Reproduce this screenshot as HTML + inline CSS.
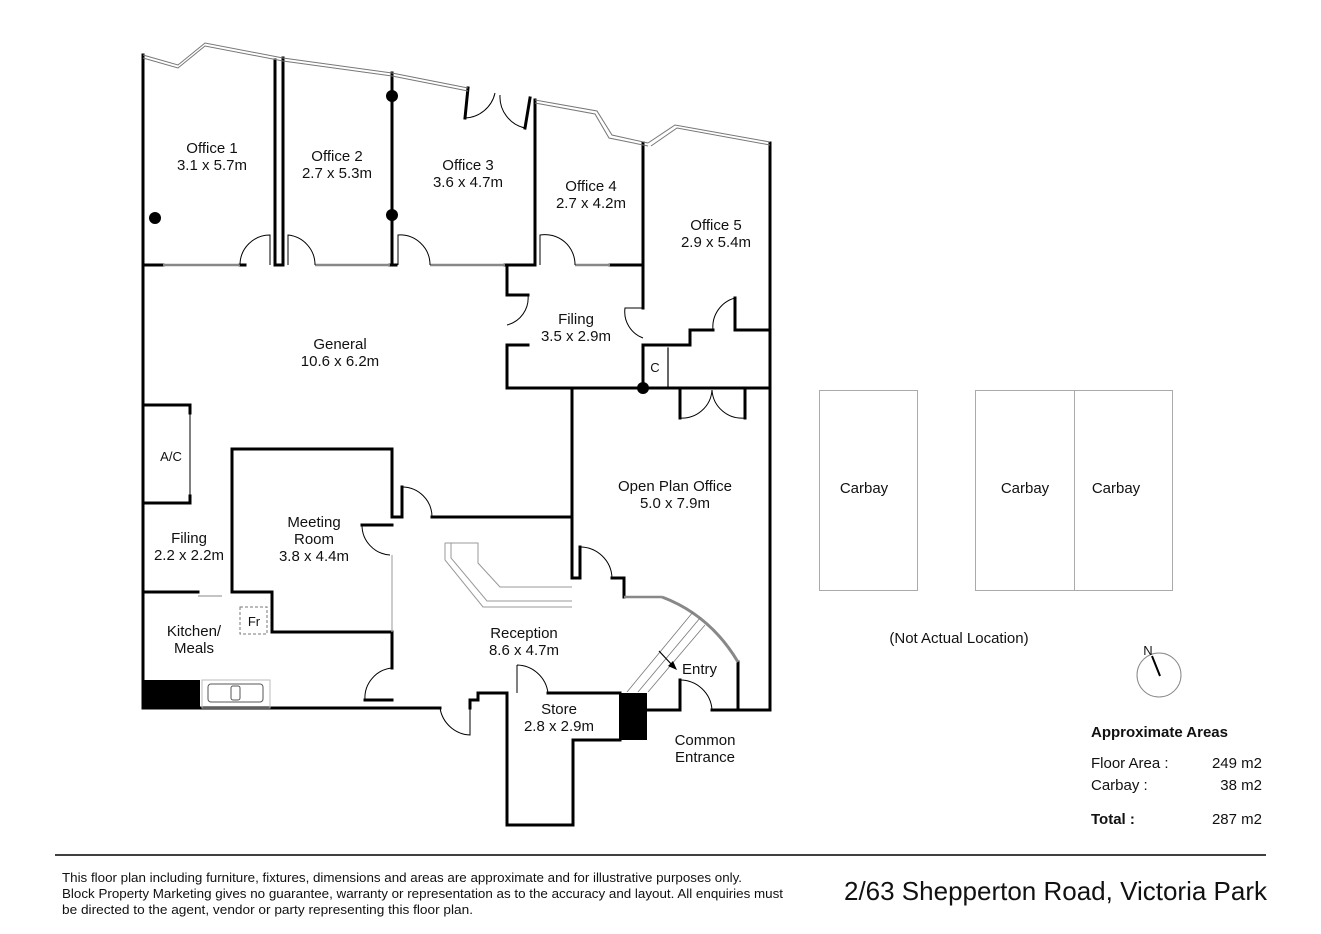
<!DOCTYPE html>
<html><head><meta charset="utf-8"><style>
html,body{margin:0;padding:0;background:#fff;}
svg{display:block;}
text{font-family:"Liberation Sans",sans-serif;fill:#111;}
</style></head><body>
<svg width="1321" height="934" viewBox="0 0 1321 934" xmlns="http://www.w3.org/2000/svg">
<g fill="none" stroke="#000" stroke-width="3" stroke-linecap="square">
<line x1="143" y1="55" x2="143" y2="708"/>
<path d="M275 60 L275 265 M283 58 L283 265"/>
<line x1="392" y1="73" x2="392" y2="265"/>
<line x1="535" y1="100" x2="535" y2="265"/>
<line x1="530" y1="98" x2="525" y2="128"/>
<line x1="468" y1="88" x2="465" y2="118"/>
<path d="M643 143 L643 308 M643 345 L643 388"/>
<line x1="770" y1="143" x2="770" y2="710"/>
<path d="M143 265 L163 265 M240 265 L245 265 M275 265 L283 265 M390 265 L396 265 M505 265 L535 265 M610 265 L643 265"/>
<path d="M507 265 L507 295 L528 295 M528 345 L507 345 L507 388 L770 388"/>
<path d="M643 345 L690 345 L690 330 L713 330 M735 298 L735 330 L770 330"/>
<line x1="668" y1="348" x2="668" y2="386" stroke-width="1.2"/>
<path d="M680 388 L680 418 M745 418 L745 390"/>
<path d="M572 388 L572 578 L580 578 L580 547 M612 578 L624 578 L624 597"/>
<path d="M738 662 L738 710 M712 710 L770 710 M647 710 L680 710 L680 680"/>
<path d="M432 517 L572 517"/>
<path d="M232 449 L392 449 L392 517 L402 517 L402 487 M362 525 L392 525 M392 632 L272 632 L272 592 L232 592 L232 449"/>
<path d="M392 632 L392 668 M365 700 L392 700"/>
<path d="M143 405 L190 405 L190 413 M190 496 L190 503 L143 503"/>
<line x1="190" y1="413" x2="190" y2="496" stroke-width="1"/>
<path d="M143 592 L198 592"/>
<path d="M143 708 L440 708 M470 708 L470 700 L478 700 L478 693 L507 693 L507 825 L573 825 L573 740 L620 740 M548 693 L620 693"/>
</g>
<rect x="143" y="680" width="57" height="29" fill="#000"/>
<rect x="619" y="693" width="28" height="47" fill="#000"/>
<g fill="#000"><circle cx="155" cy="218" r="6"/><circle cx="392" cy="96" r="6"/><circle cx="392" cy="215" r="6"/><circle cx="643" cy="388" r="6"/></g>
<g fill="none" stroke="#777" stroke-width="1">
<path d="M143 55 L178 65 L205 43 L283 58 L392 73 L468 88"/>
<path d="M143 58 L178 68 L205 46 L283 61 L392 76 L468 91"/>
<path d="M535 100 L597 111 L612 135 L648 143"/>
<path d="M535 103 L595 114 L609 138 L648 146"/>
<path d="M648 143 L675 125 L770 142"/>
<path d="M651 146 L677 128 L770 145"/>
</g>
<g stroke="#888" stroke-width="2.5">
<path d="M163 265 L240 265 M315 265 L390 265 M430 265 L505 265 M575 265 L610 265"/>
<path d="M624 597 L662 597"/>
</g>
<path d="M662 597 Q710 615 738 662" fill="none" stroke="#888" stroke-width="3"/>
<line x1="392" y1="555" x2="392" y2="632" stroke="#aaa" stroke-width="1.2"/>
<g fill="none" stroke="#000" stroke-width="1">
<path d="M240 265 A30 30 0 0 1 270 235 L270 265"/>
<path d="M288 265 L288 235 A30 30 0 0 1 315 265"/>
<path d="M398 265 L398 235 A30 30 0 0 1 430 265"/>
<path d="M540 265 L540 235 A30 30 0 0 1 575 265"/>
<path d="M465 118 A32 32 0 0 0 495 93"/>
<path d="M525 128 A32 32 0 0 1 500 95"/>
<path d="M528 295 A28 28 0 0 1 507 325"/>
<path d="M643 308 L625 308 A28 28 0 0 0 643 338"/>
<path d="M713 330 A30 30 0 0 1 735 298"/>
<path d="M680 418 A30 30 0 0 0 712 390"/>
<path d="M745 418 A30 30 0 0 1 712 390"/>
<path d="M402 487 A30 30 0 0 1 432 517"/>
<path d="M362 525 A30 30 0 0 0 390 555"/>
<path d="M365 700 A30 30 0 0 1 392 668"/>
<path d="M440 708 A32 32 0 0 0 470 735 L470 708"/>
<path d="M580 547 A32 32 0 0 1 612 578"/>
<path d="M517 665 L517 693 M517 665 A32 32 0 0 1 548 693"/>
<path d="M680 680 A32 32 0 0 1 712 710"/>
</g>
<g fill="none" stroke="#999" stroke-width="1">
<path d="M445 543 L445 560 L483 607 L572 607 M451 543 L451 558 L487 601 L572 601 M445 543 L478 543 L478 563 L500 587 L572 587"/>
</g>
<g stroke="#777" stroke-width="0.8">
<line x1="627" y1="692" x2="693" y2="612"/><line x1="638" y1="692" x2="700" y2="618"/><line x1="648" y1="692" x2="705" y2="625"/>
</g>
<line x1="659" y1="651" x2="673" y2="666" stroke="#000" stroke-width="1.2"/>
<polygon points="677,670 668,666 673,661" fill="#000"/>
<rect x="202" y="680" width="68" height="28" fill="none" stroke="#bbb" stroke-width="1"/>
<rect x="208" y="684" width="55" height="18" rx="3" fill="none" stroke="#555" stroke-width="1"/>
<rect x="231" y="686" width="9" height="14" rx="2" fill="none" stroke="#555" stroke-width="1"/>
<rect x="240" y="607" width="27" height="27" fill="none" stroke="#777" stroke-width="1" stroke-dasharray="3,2"/>
<line x1="198" y1="596" x2="222" y2="596" stroke="#888" stroke-width="1"/>
<g fill="none" stroke="#aaa" stroke-width="1">
<rect x="819.5" y="390.5" width="98" height="200"/>
<rect x="975.5" y="390.5" width="197" height="200"/>
<line x1="1074.5" y1="391" x2="1074.5" y2="590"/>
</g>
<circle cx="1159" cy="675" r="22" fill="none" stroke="#888" stroke-width="1"/>
<line x1="1152" y1="656" x2="1160" y2="676" stroke="#000" stroke-width="2"/>
<g font-size="15" text-anchor="middle">
<text x="212" y="153">Office 1</text><text x="212" y="170">3.1 x 5.7m</text>
<text x="337" y="161">Office 2</text><text x="337" y="178">2.7 x 5.3m</text>
<text x="468" y="170">Office 3</text><text x="468" y="187">3.6 x 4.7m</text>
<text x="591" y="191">Office 4</text><text x="591" y="208">2.7 x 4.2m</text>
<text x="716" y="230">Office 5</text><text x="716" y="247">2.9 x 5.4m</text>
<text x="576" y="324">Filing</text><text x="576" y="341">3.5 x 2.9m</text>
<text x="340" y="349">General</text><text x="340" y="366">10.6 x 6.2m</text>
<text x="675" y="491">Open Plan Office</text><text x="675" y="508">5.0 x 7.9m</text>
<text x="314" y="527">Meeting</text><text x="314" y="544">Room</text><text x="314" y="561">3.8 x 4.4m</text>
<text x="189" y="543">Filing</text><text x="189" y="560">2.2 x 2.2m</text>
<text x="194" y="636">Kitchen/</text><text x="194" y="653">Meals</text>
<text x="524" y="638">Reception</text><text x="524" y="655">8.6 x 4.7m</text>
<text x="559" y="714">Store</text><text x="559" y="731">2.8 x 2.9m</text>
<text x="705" y="745">Common</text><text x="705" y="762">Entrance</text>
<text x="864" y="493">Carbay</text><text x="1025" y="493">Carbay</text><text x="1116" y="493">Carbay</text>
<text x="959" y="643">(Not Actual Location)</text>
</g>
<text x="171" y="461" font-size="13" text-anchor="middle">A/C</text>
<text x="655" y="372" font-size="13" text-anchor="middle">C</text>
<text x="254" y="626" font-size="13" text-anchor="middle">Fr</text>
<text x="682" y="674" font-size="15">Entry</text>
<text x="1148" y="655" font-size="13" text-anchor="middle">N</text>
<text x="1091" y="737" font-size="15" font-weight="bold">Approximate Areas</text>
<g font-size="15">
<text x="1091" y="768">Floor Area :</text><text x="1262" y="768" text-anchor="end">249 m2</text>
<text x="1091" y="790">Carbay :</text><text x="1262" y="790" text-anchor="end">38 m2</text>
<text x="1091" y="824" font-weight="bold">Total :</text><text x="1262" y="824" text-anchor="end">287 m2</text>
</g>
<line x1="55" y1="855" x2="1266" y2="855" stroke="#000" stroke-width="1.5"/>
<g font-size="13.3">
<text x="62" y="882" textLength="680" lengthAdjust="spacingAndGlyphs">This floor plan including furniture, fixtures, dimensions and areas are approximate and for illustrative purposes only.</text>
<text x="62" y="898" textLength="721" lengthAdjust="spacingAndGlyphs">Block Property Marketing gives no guarantee, warranty or representation as to the accuracy and layout. All enquiries must</text>
<text x="62" y="914" textLength="411" lengthAdjust="spacingAndGlyphs">be directed to the agent, vendor or party representing this floor plan.</text>
</g>
<text x="1267" y="900" font-size="26" text-anchor="end">2/63 Shepperton Road, Victoria Park</text>
</svg>
</body></html>
